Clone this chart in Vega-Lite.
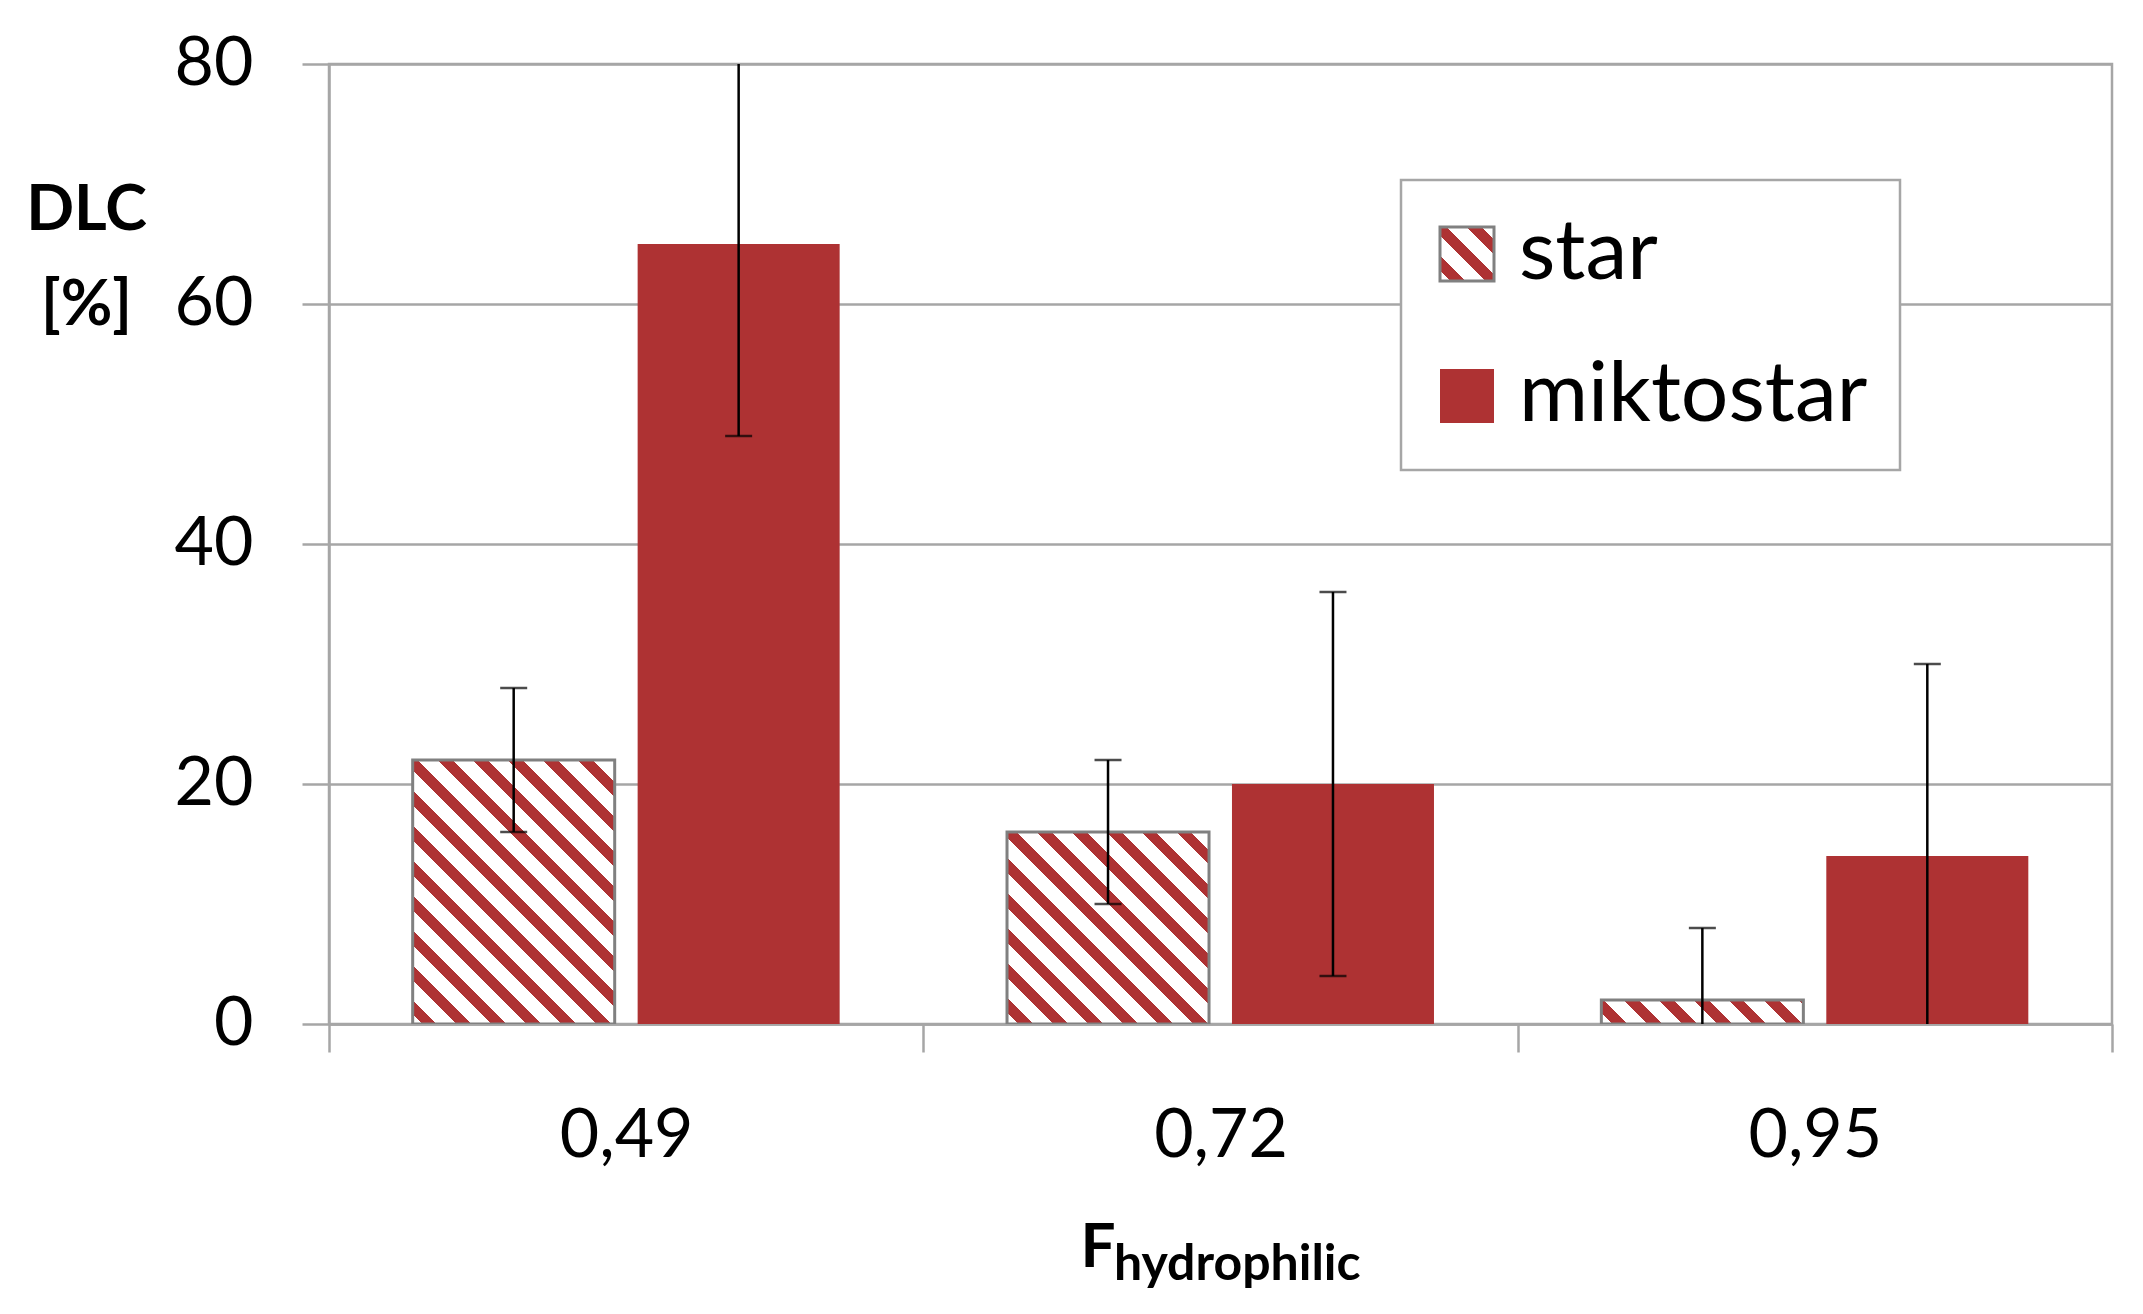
{
  "$schema": "https://vega.github.io/schema/vega-lite/v6.json",
  "width": 1783,
  "height": 960,
  "autosize": {"type": "none"},
  "padding": {"left": 329, "top": 64, "right": 31, "bottom": 290},
  "background": "white",
  "config": {
    "font": "Lato",
    "view": {"stroke": "#a6a6a6", "strokeWidth": 2.5},
    "axis": {"labelFont": "Lato", "titleFont": "Lato", "labelColor": "#000", "titleColor": "#000", "domainColor": "#a6a6a6", "domainWidth": 2.5, "tickColor": "#a6a6a6", "tickWidth": 2.5, "gridColor": "#a6a6a6", "gridWidth": 2.5},
    "axisY": {"grid": true, "tickSize": 27, "labelFontSize": 68, "labelPadding": 49,
      "titleAngle": 0, "titleFontSize": 63, "titleFontWeight": "bold", "titleX": -243, "titleY": 146, "titleAlign": "center", "titleBaseline": "middle", "titleLineHeight": 95}
  },
  "title": {"text": "hydrophilic", "orient": "bottom", "anchor": "start", "frame": "group", "dx": 785, "offset": -38, "fontSize": 50, "fontWeight": "bold", "font": "Lato", "color": "#000"},
  "data": {"values": [
    {"F": "0,49", "type": "star", "value": 22, "lo": 16, "hi": 28},
    {"F": "0,49", "type": "miktostar", "value": 65, "lo": 49, "hi": 81},
    {"F": "0,72", "type": "star", "value": 16, "lo": 10, "hi": 22},
    {"F": "0,72", "type": "miktostar", "value": 20, "lo": 4, "hi": 36},
    {"F": "0,95", "type": "star", "value": 2, "lo": -4, "hi": 8},
    {"F": "0,95", "type": "miktostar", "value": 14, "lo": -2, "hi": 30}
  ]},
  "encoding": {
    "x": {"field": "F", "type": "nominal", "scale": {"paddingInner": 0, "paddingOuter": 0},
      "axis": {"tickBand": "extent", "labelAngle": 0, "labelFontSize": 68, "tickSize": 28, "labelPadding": 50, "grid": false,
        "title": "F", "titleFontSize": 62, "titleFontWeight": "bold", "titleX": 751, "titleY": 242, "titleAlign": "left", "titleBaseline": "alphabetic", "titleAnchor": "start"}},
    "xOffset": {"field": "type", "type": "nominal", "sort": ["star", "miktostar"], "scale": {"paddingInner": 0.102, "paddingOuter": 0.372}}
  },
  "layer": [
    {
      "mark": {"type": "bar", "strokeWidth": 3, "clip": true},
      "encoding": {
        "y": {"field": "value", "type": "quantitative", "scale": {"domain": [0, 80], "nice": false}, "title": ["DLC", "[%]"], "axis": {"values": [0, 20, 40, 60, 80]}},
        "stroke": {"field": "type", "type": "nominal",
          "scale": {"domain": ["star", "miktostar"], "range": ["#808080", "transparent"]},
          "legend": {"orient": "none", "legendX": 1072, "legendY": 116, "title": null, "padding": 32, "strokeColor": "#a6a6a6", "fillColor": "white",
            "labelFontSize": 84, "labelFont": "Lato", "labelColor": "#000", "labelOffset": 10, "labelLimit": 0, "symbolOffset": -8, "rowPadding": 58, "symbolType": "square", "symbolSize": 2916, "symbolStrokeWidth": 3,
            "encoding": {
              "legend": {"strokeWidth": {"value": 2.5}},
              "symbols": {
                "fill": {"condition": {"test": "datum.value === 'star'", "value": {"gradient": "linear", "x1": 0, "y1": 1, "x2": 1, "y2": 0, "stops": [
                    {"offset": 0, "color": "#fff"},
                    {"offset": 0.1, "color": "#fff"}, {"offset": 0.1, "color": "#ae3233"}, {"offset": 0.236, "color": "#ae3233"}, {"offset": 0.236, "color": "#fff"},
                    {"offset": 0.423, "color": "#fff"}, {"offset": 0.423, "color": "#ae3233"}, {"offset": 0.559, "color": "#ae3233"}, {"offset": 0.559, "color": "#fff"},
                    {"offset": 0.746, "color": "#fff"}, {"offset": 0.746, "color": "#ae3233"}, {"offset": 0.882, "color": "#ae3233"}, {"offset": 0.882, "color": "#fff"},
                    {"offset": 1, "color": "#fff"}]}}, "value": "#ae3233"},
                "opacity": {"value": 1}
              }
            }}
        },
        "fill": {"field": "F", "type": "nominal",
          "scale": {"range": ["#ae3233"]},
          "legend": null,
          "condition": [
            {"test": "datum.type === 'star' && datum.F === '0,49'", "value": {"gradient": "linear", "x1": 0, "y1": 1, "x2": 0.852, "y2": -0.113, "stops": [
              {"offset": 0, "color": "#fff"},
              {"offset": 0.02, "color": "#fff"}, {"offset": 0.02, "color": "#ae3233"}, {"offset": 0.0515, "color": "#ae3233"}, {"offset": 0.0515, "color": "#fff"},
              {"offset": 0.095, "color": "#fff"}, {"offset": 0.095, "color": "#ae3233"}, {"offset": 0.1265, "color": "#ae3233"}, {"offset": 0.1265, "color": "#fff"},
              {"offset": 0.17, "color": "#fff"}, {"offset": 0.17, "color": "#ae3233"}, {"offset": 0.2015, "color": "#ae3233"}, {"offset": 0.2015, "color": "#fff"},
              {"offset": 0.245, "color": "#fff"}, {"offset": 0.245, "color": "#ae3233"}, {"offset": 0.2765, "color": "#ae3233"}, {"offset": 0.2765, "color": "#fff"},
              {"offset": 0.32, "color": "#fff"}, {"offset": 0.32, "color": "#ae3233"}, {"offset": 0.3515, "color": "#ae3233"}, {"offset": 0.3515, "color": "#fff"},
              {"offset": 0.395, "color": "#fff"}, {"offset": 0.395, "color": "#ae3233"}, {"offset": 0.4265, "color": "#ae3233"}, {"offset": 0.4265, "color": "#fff"},
              {"offset": 0.47, "color": "#fff"}, {"offset": 0.47, "color": "#ae3233"}, {"offset": 0.5015, "color": "#ae3233"}, {"offset": 0.5015, "color": "#fff"},
              {"offset": 0.545, "color": "#fff"}, {"offset": 0.545, "color": "#ae3233"}, {"offset": 0.5765, "color": "#ae3233"}, {"offset": 0.5765, "color": "#fff"},
              {"offset": 0.62, "color": "#fff"}, {"offset": 0.62, "color": "#ae3233"}, {"offset": 0.6515, "color": "#ae3233"}, {"offset": 0.6515, "color": "#fff"},
              {"offset": 0.695, "color": "#fff"}, {"offset": 0.695, "color": "#ae3233"}, {"offset": 0.7265, "color": "#ae3233"}, {"offset": 0.7265, "color": "#fff"},
              {"offset": 0.77, "color": "#fff"}, {"offset": 0.77, "color": "#ae3233"}, {"offset": 0.8015, "color": "#ae3233"}, {"offset": 0.8015, "color": "#fff"},
              {"offset": 0.845, "color": "#fff"}, {"offset": 0.845, "color": "#ae3233"}, {"offset": 0.8765, "color": "#ae3233"}, {"offset": 0.8765, "color": "#fff"},
              {"offset": 0.92, "color": "#fff"}, {"offset": 0.92, "color": "#ae3233"}, {"offset": 0.9515, "color": "#ae3233"}, {"offset": 0.9515, "color": "#fff"},
              {"offset": 1, "color": "#fff"}]}},
            {"test": "datum.type === 'star' && datum.F === '0,72'", "value": {"gradient": "linear", "x1": 0, "y1": 1, "x2": 1.025, "y2": 0.026, "stops": [
              {"offset": 0, "color": "#fff"},
              {"offset": 0.03, "color": "#fff"}, {"offset": 0.03, "color": "#ae3233"}, {"offset": 0.067, "color": "#ae3233"}, {"offset": 0.067, "color": "#fff"},
              {"offset": 0.119, "color": "#fff"}, {"offset": 0.119, "color": "#ae3233"}, {"offset": 0.156, "color": "#ae3233"}, {"offset": 0.156, "color": "#fff"},
              {"offset": 0.207, "color": "#fff"}, {"offset": 0.207, "color": "#ae3233"}, {"offset": 0.244, "color": "#ae3233"}, {"offset": 0.244, "color": "#fff"},
              {"offset": 0.296, "color": "#fff"}, {"offset": 0.296, "color": "#ae3233"}, {"offset": 0.333, "color": "#ae3233"}, {"offset": 0.333, "color": "#fff"},
              {"offset": 0.385, "color": "#fff"}, {"offset": 0.385, "color": "#ae3233"}, {"offset": 0.422, "color": "#ae3233"}, {"offset": 0.422, "color": "#fff"},
              {"offset": 0.474, "color": "#fff"}, {"offset": 0.474, "color": "#ae3233"}, {"offset": 0.511, "color": "#ae3233"}, {"offset": 0.511, "color": "#fff"},
              {"offset": 0.562, "color": "#fff"}, {"offset": 0.562, "color": "#ae3233"}, {"offset": 0.599, "color": "#ae3233"}, {"offset": 0.599, "color": "#fff"},
              {"offset": 0.651, "color": "#fff"}, {"offset": 0.651, "color": "#ae3233"}, {"offset": 0.688, "color": "#ae3233"}, {"offset": 0.688, "color": "#fff"},
              {"offset": 0.74, "color": "#fff"}, {"offset": 0.74, "color": "#ae3233"}, {"offset": 0.777, "color": "#ae3233"}, {"offset": 0.777, "color": "#fff"},
              {"offset": 0.828, "color": "#fff"}, {"offset": 0.828, "color": "#ae3233"}, {"offset": 0.865, "color": "#ae3233"}, {"offset": 0.865, "color": "#fff"},
              {"offset": 0.917, "color": "#fff"}, {"offset": 0.917, "color": "#ae3233"}, {"offset": 0.954, "color": "#ae3233"}, {"offset": 0.954, "color": "#fff"},
              {"offset": 1, "color": "#fff"}]}},
            {"test": "datum.type === 'star' && datum.F === '0,95'", "value": {"gradient": "linear", "x1": 0, "y1": 1, "x2": 1.103, "y2": 0.869, "stops": [
              {"offset": 0, "color": "#fff"},
              {"offset": 0.05, "color": "#fff"}, {"offset": 0.05, "color": "#ae3233"}, {"offset": 0.115, "color": "#ae3233"}, {"offset": 0.115, "color": "#fff"},
              {"offset": 0.205, "color": "#fff"}, {"offset": 0.205, "color": "#ae3233"}, {"offset": 0.27, "color": "#ae3233"}, {"offset": 0.27, "color": "#fff"},
              {"offset": 0.359, "color": "#fff"}, {"offset": 0.359, "color": "#ae3233"}, {"offset": 0.424, "color": "#ae3233"}, {"offset": 0.424, "color": "#fff"},
              {"offset": 0.514, "color": "#fff"}, {"offset": 0.514, "color": "#ae3233"}, {"offset": 0.579, "color": "#ae3233"}, {"offset": 0.579, "color": "#fff"},
              {"offset": 0.668, "color": "#fff"}, {"offset": 0.668, "color": "#ae3233"}, {"offset": 0.733, "color": "#ae3233"}, {"offset": 0.733, "color": "#fff"},
              {"offset": 0.823, "color": "#fff"}, {"offset": 0.823, "color": "#ae3233"}, {"offset": 0.888, "color": "#ae3233"}, {"offset": 0.888, "color": "#fff"},
              {"offset": 0.978, "color": "#fff"}, {"offset": 0.978, "color": "#ae3233"}, {"offset": 1, "color": "#ae3233"}]}}
          ]
        }
      }
    },
    {
      "mark": {"type": "rule", "color": "#000", "strokeWidth": 2.5, "clip": true},
      "encoding": {
        "y": {"field": "lo", "type": "quantitative", "title": ["DLC", "[%]"]},
        "y2": {"field": "hi"}
      }
    },
    {
      "mark": {"type": "tick", "orient": "horizontal", "size": 27, "thickness": 2.5, "color": "#000", "clip": true},
      "encoding": {"y": {"field": "hi", "type": "quantitative", "title": ["DLC", "[%]"]}}
    },
    {
      "mark": {"type": "tick", "orient": "horizontal", "size": 27, "thickness": 2.5, "color": "#000", "clip": true},
      "encoding": {"y": {"field": "lo", "type": "quantitative", "title": ["DLC", "[%]"]}}
    }
  ]
}
